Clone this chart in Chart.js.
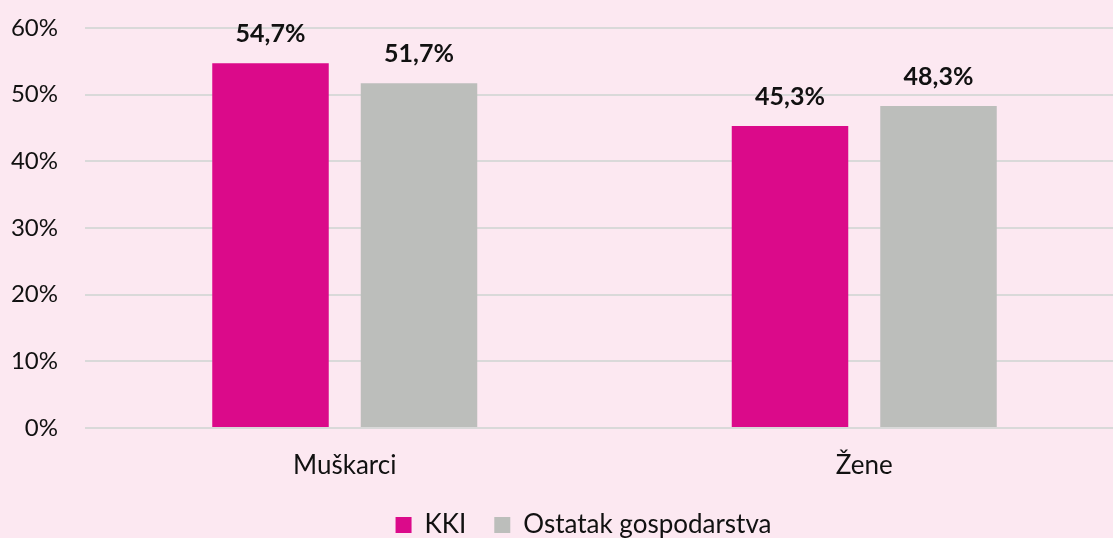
<!DOCTYPE html>
<html>
<head>
<meta charset="utf-8">
<script src="https://cdn.jsdelivr.net/npm/chart.js@4.4.1/dist/chart.umd.min.js"></script>
<style>
  html, body { margin: 0; padding: 0; background: #fce8f1; overflow: hidden; }
  #wrap { width: 1113px; height: 538px; overflow: hidden; position: relative; }
  #box { width: 1167px; height: 538px; position: absolute; left: 0; top: 0; }
</style>
</head>
<body>
<div id="wrap"><div id="box"><canvas id="c"></canvas></div></div>
<script>
const categories = ["Muškarci", "Žene"];
const seriesNames = ["KKI", "Ostatak gospodarstva"];
const kkiValues = [54.7, 45.3];
const ostatakValues = [51.7, 48.3];
const yTicks = [0, 10, 20, 30, 40, 50, 60];

const FONT = "Lato, 'Open Sans', sans-serif";

const valueLabels = {
  id: 'valueLabels',
  afterDatasetsDraw(chart) {
    const ctx = chart.ctx;
    ctx.save();
    ctx.font = "bold 25px " + FONT;
    ctx.fillStyle = '#111111';
    ctx.textAlign = 'center';
    ctx.textBaseline = 'middle';
    chart.data.datasets.forEach((ds, i) => {
      const meta = chart.getDatasetMeta(i);
      meta.data.forEach((bar, j) => {
        const v = ds.data[j];
        ctx.fillText(v.toFixed(1).replace('.', ',') + '%', bar.x, bar.y - 29);
      });
    });
    ctx.restore();
  }
};

new Chart(document.getElementById('c'), {
  type: 'bar',
  data: {
    labels: categories,
    datasets: [
      { label: seriesNames[0], data: kkiValues, backgroundColor: '#db0a8a', borderWidth: 0, yAxisID: 'y' },
      { label: seriesNames[1], data: ostatakValues, backgroundColor: '#bcbebb', borderWidth: 0, yAxisID: 'y' }
    ]
  },
  options: {
    responsive: true,
    maintainAspectRatio: false,
    animation: false,
    layout: { padding: { top: 28, left: 0, right: 0, bottom: 0 } },
    categoryPercentage: 0.5717,
    barPercentage: 0.7845,
    plugins: {
      legend: {
        position: 'bottom',
        maxHeight: 54,
        labels: {
          boxWidth: 16,
          boxHeight: 16,
          padding: 28,
          color: '#111111',
          font: { family: FONT, size: 26 }
        }
      },
      tooltip: { enabled: false }
    },
    scales: {
      x: {
        grid: { display: false, drawTicks: false },
        border: { display: false },
        ticks: { color: '#111111', font: { family: FONT, size: 26 }, padding: 22 },
        afterFit(s) { s.height = 56; }
      },
      y: {
        min: 0, max: 60,
        afterBuildTicks(s) { s.ticks = yTicks.map(v => ({ value: v })); },
        grid: { color: '#d9d9d9', lineWidth: 2, drawTicks: false },
        border: { display: false },
        ticks: {
          color: '#111111', font: { family: FONT, size: 24 }, padding: 27,
          callback: v => v + '%'
        },
        afterFit(s) { s.width = 85; s.paddingTop = 0; s.paddingBottom = 0; }
      },
      yRight: {
        type: 'linear',
        position: 'right',
        min: 0, max: 60,
        grid: { display: false, drawTicks: false },
        border: { display: false },
        ticks: { display: false },
        afterFit(s) { s.width = 43; s.paddingTop = 0; s.paddingBottom = 0; }
      }
    }
  },
  plugins: [valueLabels]
});
</script>
</body>
</html>
